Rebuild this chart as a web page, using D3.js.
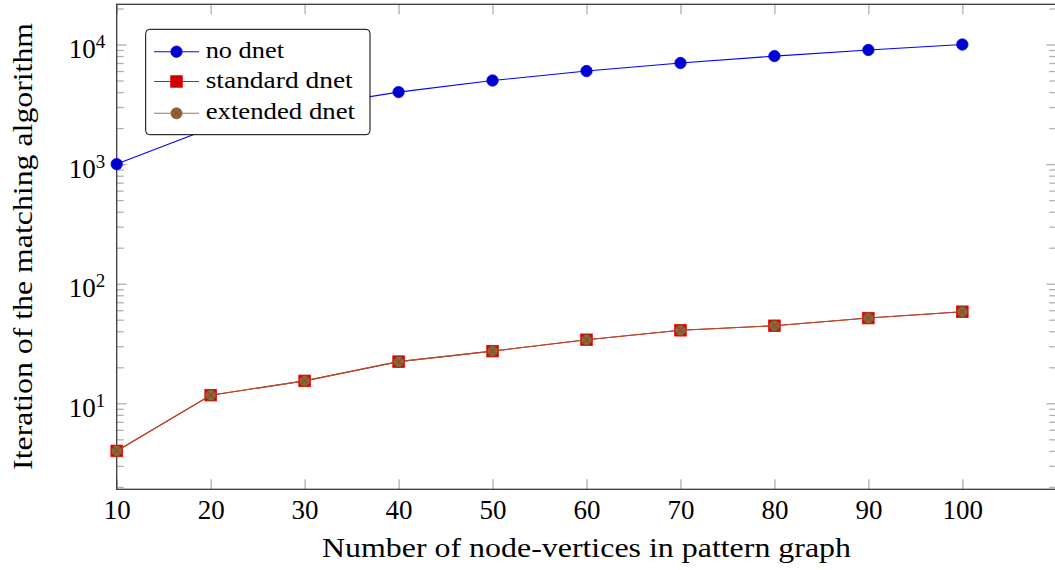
<!DOCTYPE html>
<html><head><meta charset="utf-8">
<script src="https://cdn.jsdelivr.net/npm/d3@7"></script>
<style>
body{margin:0;background:#fff}
svg text{font-family:"Liberation Serif","Times New Roman",serif;fill:#000}
</style>
</head><body>
<svg id="chart" width="1055" height="570"></svg>
<script>
// ---- data ----
const nodeCounts = [10, 20, 30, 40, 50, 60, 70, 80, 90, 100];
const noDnet = [1000, 2000, 3000, 4000, 5000, 6000, 7000, 8000, 9000, 10000];
const standardDnet = [4, 11.7, 15.4, 22.3, 27.3, 34, 40.8, 44.5, 51.6, 58.3];
const extendedDnet = [4, 11.7, 15.4, 22.3, 27.3, 34, 40.8, 44.5, 51.6, 58.3];
const seriesNames = ["no dnet", "standard dnet", "extended dnet"];
const xTickValues = [10, 20, 30, 40, 50, 60, 70, 80, 90, 100, 110];
const xTickLabels = ["10", "20", "30", "40", "50", "60", "70", "80", "90", "100", ""];
const yMajorTicks = [10, 100, 1000, 10000];
const yTickExponents = ["1", "2", "3", "4"];
const xDomain = [10, 110];
const yDomain = [1.91, 21680];
const xTitle = "Number of node-vertices in pattern graph";
const yTitle = "Iteration of the matching algorithm";

// ---- layout ----
const L = 116.7, R = 1056.3, T = 4.3, B = 489.3;
const svg = d3.select("#chart");
const x = d3.scaleLinear().domain(xDomain).range([L, R]);
const y = d3.scaleLog().domain(yDomain).range([B, T]);

const yMinorTicks = [];
[1, 10, 100, 1000, 10000].forEach(d => { for (let k = 2; k <= 9; k++) { const v = k * d; if (v >= yDomain[0] && v <= yDomain[1]) yMinorTicks.push(v); } });

const tickColor = "#b0b0b0", tickW = 1.3, majorLen = 10, minorLen = 7;
function styleTicks(g) {
  g.select(".domain").remove();
  g.selectAll(".tick line").attr("stroke", tickColor).attr("stroke-width", tickW);
}

// x ticks bottom (inward) with labels
const gxb = svg.append("g").attr("transform", `translate(0,${B})`)
  .call(d3.axisBottom(x).tickValues(xTickValues).tickSize(-majorLen)
    .tickFormat((d, i) => xTickLabels[i]));
styleTicks(gxb);
gxb.selectAll(".tick text").attr("y", 30).attr("dy", null)
  .attr("font-size", 27).attr("font-family", "Liberation Serif").attr("fill", "#000");

// x ticks top (inward)
const gxt = svg.append("g").attr("transform", `translate(0,${T})`)
  .call(d3.axisTop(x).tickValues(xTickValues).tickSize(-majorLen).tickFormat(""));
styleTicks(gxt);

// y ticks left major with labels
const gyl = svg.append("g").attr("transform", `translate(${L},0)`)
  .call(d3.axisLeft(y).tickValues(yMajorTicks).tickSize(-majorLen));
styleTicks(gyl);
gyl.selectAll(".tick text").each(function (d, i) {
  const t = d3.select(this);
  t.text(null).attr("x", -11.5).attr("dy", null).attr("y", 13)
    .attr("text-anchor", "end").attr("font-size", 27).attr("font-family", "Liberation Serif").attr("fill", "#000");
  t.append("tspan").text("10");
  t.append("tspan").attr("dy", -10).attr("font-size", 19).text(yTickExponents[i]);
});
// y ticks left minor
styleTicks(svg.append("g").attr("transform", `translate(${L},0)`)
  .call(d3.axisLeft(y).tickValues(yMinorTicks).tickSize(-minorLen).tickFormat("")));
// y ticks right
styleTicks(svg.append("g").attr("transform", `translate(${R},0)`)
  .call(d3.axisRight(y).tickValues(yMajorTicks).tickSize(-majorLen).tickFormat("")));
styleTicks(svg.append("g").attr("transform", `translate(${R},0)`)
  .call(d3.axisRight(y).tickValues(yMinorTicks).tickSize(-minorLen).tickFormat("")));

// frame
svg.append("rect").attr("x", L).attr("y", T).attr("width", R - L).attr("height", B - T)
  .attr("fill", "none").attr("stroke", "#3a3a3a").attr("stroke-width", 1.3);

// ---- series ----
const styles = [
  { line: "#0000ff", fill: "#0000cc", stroke: "#0000ff", mark: "circle" },
  { line: "#ff0000", fill: "#cc0000", stroke: "#ff0000", mark: "square" },
  { line: "#a5522e", fill: "#936236", stroke: "#6e4526", mark: "otimes" }
];
const allSeries = [noDnet, standardDnet, extendedDnet];

function drawMark(g, type, cx, cy, st) {
  if (type === "circle") {
    g.append("circle").attr("cx", cx).attr("cy", cy).attr("r", 5.7)
      .attr("fill", st.fill).attr("stroke", st.stroke).attr("stroke-width", 0.8);
  } else if (type === "square") {
    g.append("rect").attr("x", cx - 5.8).attr("y", cy - 5.8).attr("width", 11.6).attr("height", 11.6)
      .attr("fill", st.fill).attr("stroke", st.stroke).attr("stroke-width", 0.8);
  } else {
    g.append("circle").attr("cx", cx).attr("cy", cy).attr("r", 5.5)
      .attr("fill", st.fill).attr("stroke", st.stroke).attr("stroke-width", 0.7);
    const a = 5.5 * Math.SQRT1_2;
    g.append("path").attr("d", `M${cx - a},${cy - a}L${cx + a},${cy + a}M${cx - a},${cy + a}L${cx + a},${cy - a}`)
      .attr("stroke", st.stroke).attr("stroke-width", 0.7).attr("fill", "none");
  }
}

const line = d3.line().x((d, i) => x(nodeCounts[i])).y(d => y(d));
allSeries.forEach((vals, si) => {
  const st = styles[si];
  const g = svg.append("g");
  g.append("path").datum(vals).attr("d", line).attr("fill", "none")
    .attr("stroke", st.line).attr("stroke-width", 1.1);
  vals.forEach((v, i) => drawMark(g, st.mark, x(nodeCounts[i]), y(v), st));
});

// ---- legend ----
const lg = svg.append("g");
lg.append("rect").attr("x", 145.7).attr("y", 29.3).attr("width", 224.3).attr("height", 105.4)
  .attr("rx", 4).attr("fill", "#fff").attr("stroke", "#000").attr("stroke-width", 1);
const rowY = [51.7, 81.5, 113.3];
const legendWidths = [78.3, 147, 149.3];
seriesNames.forEach((name, i) => {
  const st = styles[i];
  const legendLineColor = i === 2 ? "#a87450" : st.line;
  lg.append("line").attr("x1", 154).attr("x2", 199).attr("y1", rowY[i]).attr("y2", rowY[i])
    .attr("stroke", legendLineColor).attr("stroke-width", 1.1);
  drawMark(lg, st.mark, 176.5, rowY[i], st);
  lg.append("text").attr("x", 205.7).attr("y", rowY[i] + 6).attr("font-size", 23)
    .attr("textLength", legendWidths[i]).attr("lengthAdjust", "spacingAndGlyphs").text(name);
});

// ---- axis titles ----
svg.append("text").attr("x", (L + R) / 2).attr("y", 557).attr("text-anchor", "middle")
  .attr("font-size", 27).attr("textLength", 529).attr("lengthAdjust", "spacingAndGlyphs").text(xTitle);
svg.append("text").attr("transform", `translate(31.5,246.4) rotate(-90)`).attr("text-anchor", "middle")
  .attr("font-size", 27).attr("textLength", 447).attr("lengthAdjust", "spacingAndGlyphs").text(yTitle);
</script>
</body></html>
